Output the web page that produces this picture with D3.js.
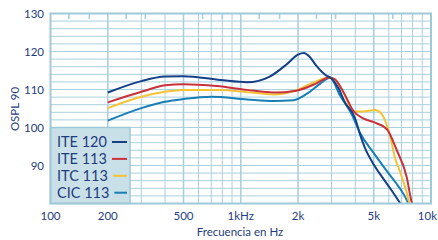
<!DOCTYPE html>
<html>
<head>
<meta charset="utf-8">
<script src="https://cdn.jsdelivr.net/npm/d3@7"></script>
<style>
  html, body { margin: 0; padding: 0; background: #fff; }
  svg { display: block; font-family: Lato, "Open Sans", sans-serif; }
</style>
</head>
<body>
<svg id="chart" width="438" height="240"></svg>
<script>
// ── Data ─────────────────────────────────────────────────────────────────────
const seriesNames  = ['ITE 120', 'ITE 113', 'ITC 113', 'CIC 113'];
const seriesColors = ['#153f86', '#c9313d', '#f6c334', '#177fb5'];

const ite120 = [[200,109.2],[300,112.2],[400,113.4],[500,113.5],[780,112.5],[1080,111.9],[1420,113.4],
                [1740,116.6],[2000,119.2],[2150,119.6],[2300,118.6],[2500,116.2],[2830,113.6],[2950,113.2],
                [3250,110.5],[3530,106.6],[3985,102.5],[4235,98.2],[4500,94.6],[4900,91],[5600,86.6],
                [6200,83.5],[6900,80],[7100,79]];
const ite113 = [[200,106.6],[300,109.4],[400,111.1],[500,111.4],[750,110.9],[1080,109.9],[1490,109.2],
                [1960,109.7],[2500,111.6],[2890,113.1],[3100,112.8],[3450,109.5],[3905,104.4],[4400,102.4],
                [5000,101.4],[5850,99.6],[6600,94.1],[7450,87],[7950,80],[8100,79]];
const itc113 = [[200,105.1],[300,108.1],[400,109.4],[500,109.9],[780,109.9],[1080,109.3],[1490,108.7],
                [1960,109.8],[2310,111.4],[2890,113.1],[3100,112.8],[3450,109.5],[3905,104.3],[4400,104.2],
                [5080,104.6],[5500,103.6],[6090,97.8],[6470,92],[6870,88.4],[7400,83.4],[7700,80],[7800,79]];
const cic113 = [[200,101.8],[300,105.1],[400,106.8],[500,107.5],[700,108.1],[1080,107.4],[1490,107],
                [1890,107.2],[2230,108.9],[2610,111.5],[2950,113.1],[3325,108.4],[3830,103.5],[4235,98.6],
                [4980,93.4],[5850,88.6],[6500,85.6],[7150,82.6],[7600,80],[7750,79]];
const seriesValues = [ite120, ite113, itc113, cic113];

const xTickValues = [100, 200, 500, 1000, 2000, 5000, 10000];
const xTickLabels = ['100', '200', '500', '1kHz', '2k', '5k', '10k'];
const yTickValues = [90, 100, 110, 120, 130];
const thirdOctave = [125, 160, 250, 315, 630, 800, 1250, 1600, 2500, 3150, 6300, 8000];

// ── Layout ───────────────────────────────────────────────────────────────────
const TEXT_COLOR = '#1f3d7c';
const GRID_COLOR = '#a9d0dd';
const LEFT = 50.5, RIGHT = 431, TOP = 13.5, BOTTOM = 203.5;

const svg = d3.select('#chart');
const x = d3.scaleLog().domain([100, 10000]).range([LEFT, RIGHT]);
const y = d3.scaleLinear().domain([80, 130]).range([BOTTOM, TOP]);

// ── Grid ─────────────────────────────────────────────────────────────────────
const grid = svg.append('g');
grid.selectAll('line.h')
  .data(d3.range(82, 130, 2))
  .join('line')
  .attr('x1', LEFT).attr('x2', RIGHT)
  .attr('y1', d => y(d)).attr('y2', d => y(d))
  .attr('stroke', GRID_COLOR).attr('stroke-width', 1);

const vLines = x.ticks().filter(f => f >= 200 && f < 10000);
grid.selectAll('line.v')
  .data(vLines)
  .join('line')
  .attr('x1', d => x(d)).attr('x2', d => x(d))
  .attr('y1', TOP).attr('y2', BOTTOM)
  .attr('stroke', GRID_COLOR)
  .attr('stroke-width', d => xTickValues.includes(d) ? 1.6 : 1);

// short marks along the top for the remaining 1/3-octave bands
grid.selectAll('line.t')
  .data(thirdOctave)
  .join('line')
  .attr('x1', d => x(d)).attr('x2', d => x(d))
  .attr('y1', TOP).attr('y2', TOP + 5.5)
  .attr('stroke', GRID_COLOR).attr('stroke-width', 1.6);

// ── Curves ───────────────────────────────────────────────────────────────────
svg.append('clipPath').attr('id', 'plot-clip')
  .append('rect').attr('x', LEFT).attr('y', TOP).attr('width', RIGHT - LEFT).attr('height', BOTTOM - TOP);

const line = d3.line()
  .x(d => x(d[0])).y(d => y(d[1]))
  .curve(d3.curveMonotoneX);

// draw back-to-front so ITE 120 ends on top
svg.append('g').attr('clip-path', 'url(#plot-clip)')
  .selectAll('path')
  .data([3, 2, 1, 0])
  .join('path')
  .attr('d', i => line(seriesValues[i]))
  .attr('fill', 'none')
  .attr('stroke', i => seriesColors[i])
  .attr('stroke-width', 2)
  .attr('stroke-linejoin', 'round');

// ── Legend box ───────────────────────────────────────────────────────────────
const legend = svg.append('g');
legend.append('rect')
  .attr('x', LEFT).attr('y', y(100))
  .attr('width', 130 - LEFT).attr('height', BOTTOM - y(100))
  .attr('fill', '#c9e0e9').attr('stroke', '#9fc9d8').attr('stroke-width', 1.5);

const rows = legend.selectAll('g.row')
  .data(seriesNames)
  .join('g')
  .attr('transform', (d, i) => `translate(57,${142 + i * 16.9})`);
rows.append('text')
  .attr('dy', '0.36em')
  .attr('font-size', 14.5)
  .attr('fill', TEXT_COLOR)
  .text(d => d);
rows.each(function(d, i) {
  const w = this.querySelector('text').getComputedTextLength();
  d3.select(this).append('line')
    .attr('x1', Math.max(w + 5, 50)).attr('x2', 70)
    .attr('y1', 0).attr('y2', 0)
    .attr('stroke', seriesColors[i]).attr('stroke-width', 2);
});

// ── Frame ────────────────────────────────────────────────────────────────────
svg.append('rect')
  .attr('x', LEFT).attr('y', TOP)
  .attr('width', RIGHT - LEFT).attr('height', BOTTOM - TOP)
  .attr('fill', 'none').attr('stroke', '#9fc9d8').attr('stroke-width', 2);

// ── Axes labels ──────────────────────────────────────────────────────────────
svg.append('g')
  .selectAll('text')
  .data(yTickValues)
  .join('text')
  .attr('x', 44).attr('y', d => y(d)).attr('dy', '0.36em')
  .attr('text-anchor', 'end').attr('font-size', 11.5)
  .attr('fill', TEXT_COLOR)
  .text(d => d);

// last label would run past the right edge; pin it flush to the edge instead
svg.append('g')
  .selectAll('text')
  .data(xTickValues)
  .join('text')
  .attr('x', d => d === 10000 ? 437 : x(d)).attr('y', 216).attr('dy', '0.36em')
  .attr('text-anchor', d => d === 10000 ? 'end' : 'middle').attr('font-size', 11.5)
  .attr('fill', TEXT_COLOR)
  .text((d, i) => xTickLabels[i]);

svg.append('text')
  .attr('x', 240).attr('y', 232).attr('dy', '0.36em')
  .attr('text-anchor', 'middle').attr('font-size', 11.5)
  .attr('fill', TEXT_COLOR)
  .text('Frecuencia en Hz');

svg.append('text')
  .attr('transform', 'translate(15,109) rotate(-90)')
  .attr('dy', '0.36em')
  .attr('text-anchor', 'middle').attr('font-size', 11.5)
  .attr('fill', TEXT_COLOR)
  .text('OSPL 90');
</script>
</body>
</html>
